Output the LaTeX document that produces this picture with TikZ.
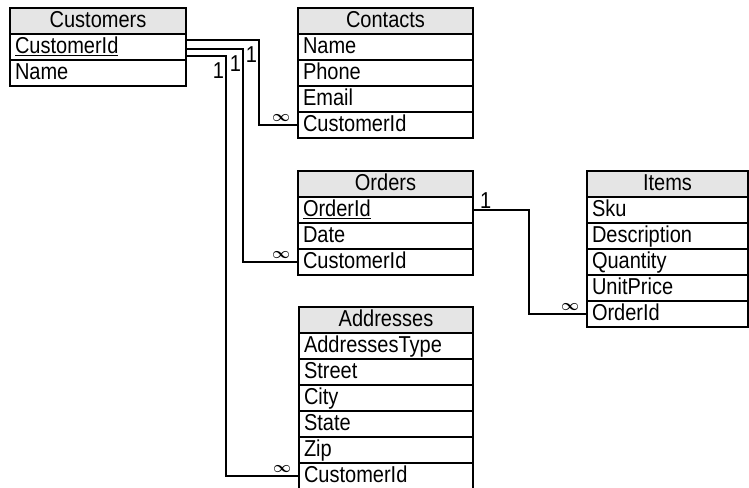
\documentclass[tikz,border=0pt]{standalone}
\usepackage{fontspec}
\setmainfont{Liberation Sans}[FakeStretch=0.87]
\newcommand{\manysign}{\resizebox{18pt}{!}{\boldmath$\infty$}}
\begin{document}
\begin{tikzpicture}[x=1pt,y=-1pt]
  % Define styles for the table rows
  \tikzstyle{field} = [anchor=north west, draw, rectangle, line width=1.2pt,
  outer sep=0pt, minimum height=26pt, inner xsep=5pt, inner ysep=0pt,
  text height=17pt, text depth=4pt, align=left,
  font=\fontsize{23}{23}\selectfont]
  \tikzstyle{heading} = [field, fill=black!10, align=center]
  \tikzstyle{link} = [line width=2pt]
  \tikzstyle{one} = [inner sep=1pt, font=\fontsize{23}{23}\selectfont]
  \tikzstyle{many} = [inner sep=3pt]

  \useasboundingbox (0,0) rectangle (749,487);

  % Customers table
  \node[heading, text width=166pt] (cust-title) at (10,8) {Customers};
  \node[field, text width=166pt] (cust-id) at (cust-title.south west) {\underline{CustomerId}};
  \node[field, text width=166pt] (cust-name) at (cust-id.south west) {Name};

  % Contacts table
  \node[heading, text width=165pt] (cont-title) at (298,8) {Contacts};
  \node[field, text width=165pt] (cont-name) at (cont-title.south west) {Name};
  \node[field, text width=165pt] (cont-phone) at (cont-name.south west) {Phone};
  \node[field, text width=165pt] (cont-email) at (cont-phone.south west) {Email};
  \node[field, text width=165pt] (cont-cid) at (cont-email.south west) {CustomerId};

  % Orders table
  \node[heading, text width=165pt] (ord-title) at (298,171) {Orders};
  \node[field, text width=165pt] (ord-id) at (ord-title.south west) {\underline{OrderId}};
  \node[field, text width=165pt] (ord-date) at (ord-id.south west) {Date};
  \node[field, text width=165pt] (ord-cid) at (ord-date.south west) {CustomerId};

  % Items table
  \node[heading, text width=151pt] (item-title) at (587,171) {Items};
  \node[field, text width=151pt] (item-sku) at (item-title.south west) {Sku};
  \node[field, text width=151pt] (item-desc) at (item-sku.south west) {Description};
  \node[field, text width=151pt] (item-qty) at (item-desc.south west) {Quantity};
  \node[field, text width=151pt] (item-price) at (item-qty.south west) {UnitPrice};
  \node[field, text width=151pt] (item-oid) at (item-price.south west) {OrderId};

  % Addresses table
  \node[heading, text width=164pt] (addr-title) at (299,307) {Addresses};
  \node[field, text width=164pt] (addr-type) at (addr-title.south west) {AddressesType};
  \node[field, text width=164pt] (addr-street) at (addr-type.south west) {Street};
  \node[field, text width=164pt] (addr-city) at (addr-street.south west) {City};
  \node[field, text width=164pt] (addr-state) at (addr-city.south west) {State};
  \node[field, text width=164pt] (addr-zip) at (addr-state.south west) {Zip};
  \node[field, text width=164pt] (addr-cid) at (addr-zip.south west) {CustomerId};

  % Connections
  \draw[link] ([yshift=7pt]cust-id.east) -- ++(73,0)
    node[one, below left, yshift=-5pt] {1} |- (cont-cid.west)
    node[many, above left, xshift=-4pt] {\manysign};
  \draw[link] ([yshift=-2pt]cust-id.east) -- ++(57,0)
    node[one, below left, yshift=-5pt] {1} |- (ord-cid.west)
    node[many, above left, xshift=-4pt] {\manysign};
  \draw[link] ([yshift=-9pt]cust-id.east) -- ++(40,0)
    node[one, below left, yshift=-5pt] {1} |- (addr-cid.west)
    node[many, above left, xshift=-4pt] {\manysign};
  \draw[link] (ord-id.east) node[one, above right, xshift=5pt] {1}
    -- ++(56,0) |- (item-oid.west)
    node[many, above left, xshift=-4pt] {\manysign};
\end{tikzpicture}
\end{document}
